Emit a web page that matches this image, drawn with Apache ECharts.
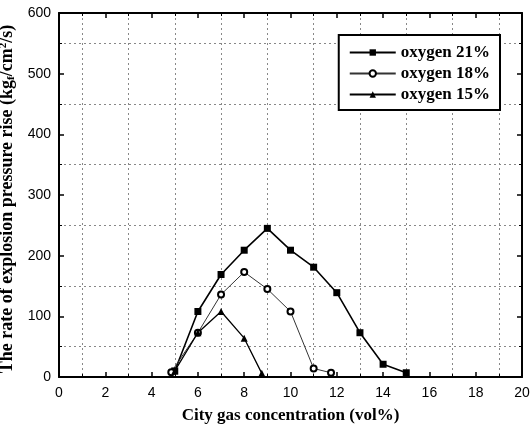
<!DOCTYPE html>
<html><head><meta charset="utf-8">
<script src="https://cdn.jsdelivr.net/npm/echarts@6/dist/echarts.min.js"></script>
<style>html,body{margin:0;padding:0;background:#fff}#c{width:532px;height:432px}</style>
</head><body><div id="c"></div>
<script>
const seriesNames = ['oxygen 21%', 'oxygen 18%', 'oxygen 15%'];
const x21 = [5, 6, 7, 8, 9, 10, 11, 12, 13, 14, 15];
const y21 = [10, 108, 169, 209, 245, 209, 181, 139, 73, 21, 7];
const x18 = [4.85, 6, 7, 8, 9, 10, 11, 11.75];
const y18 = [8, 73, 136, 173, 145, 108, 14, 7];
const x15 = [5, 6, 7, 8, 8.76];
const y15 = [10, 73, 108, 64, 6];
const xTitle = 'City gas concentration (vol%)';
const yTitle = 'The rate of explosion pressure rise (kg{s|f}/cm{p|2}/s)';

const pair = (xs, ys) => xs.map((x, i) => [x, ys[i]]);
const chart = echarts.init(document.getElementById('c'), null, {renderer: 'canvas'});
const gridLine = {show: true, lineStyle: {color: '#888', type: [2, 3], width: 1}};
const baseAxis = {
  axisLine: {show: true, onZero: false, lineStyle: {color: '#000', width: 2}},
  axisTick: {show: true, inside: true, length: 5, lineStyle: {color: '#000', width: 1.5}},
  minorTick: {show: true, splitNumber: 2, length: 3, lineStyle: {color: '#000', width: 1}},
  splitLine: {show: false},
  minorSplitLine: gridLine
};
chart.setOption({
  animation: false,
  grid: {left: 59, right: 10, top: 13, bottom: 55, containLabel: false, outerBoundsMode: 'none'},
  legend: {
    right: 32, top: 35, orient: 'vertical', itemWidth: 46, itemHeight: 8, itemGap: 4,
    borderColor: '#000', borderWidth: 2, padding: [9, 10, 7, 10],
    backgroundColor: '#fff',
    textStyle: {fontFamily: 'Liberation Serif', fontWeight: 'bold', fontSize: 17, color: '#000'},
    data: seriesNames
  },
  xAxis: [
    Object.assign({}, baseAxis, {
      type: 'value', min: 0, max: 20, interval: 2,
      axisLabel: {color: '#000', fontFamily: 'Liberation Sans', fontSize: 14, margin: 9},
      name: xTitle, nameLocation: 'middle', nameGap: 30,
      nameTextStyle: {fontFamily: 'Liberation Serif', fontWeight: 'bold', fontSize: 17, color: '#000'}
    }),
    Object.assign({}, baseAxis, {
      type: 'value', min: 0, max: 20, interval: 2, position: 'top',
      axisLabel: {show: false}, minorSplitLine: {show: false}
    })
  ],
  yAxis: [
    Object.assign({}, baseAxis, {
      type: 'value', min: 0, max: 600, interval: 100,
      axisLabel: {color: '#000', fontFamily: 'Liberation Sans', fontSize: 14, margin: 8},
      name: yTitle, nameLocation: 'middle', nameGap: 33,
      nameTextStyle: {fontFamily: 'Liberation Serif', fontWeight: 'bold', fontSize: 18, color: '#000',
        padding: [0, 8, 0, 0],
        rich: {s: {fontSize: 11, fontFamily: 'Liberation Serif', fontWeight: 'bold', verticalAlign: 'bottom', padding: [8, 0, 0, 0]},
               p: {fontSize: 11, fontFamily: 'Liberation Serif', fontWeight: 'bold', verticalAlign: 'top', padding: [0, 0, 8, 0]}}}
    }),
    Object.assign({}, baseAxis, {
      type: 'value', min: 0, max: 600, interval: 100, position: 'right',
      axisLabel: {show: false}, minorSplitLine: {show: false}
    })
  ],
  series: [
    {name: seriesNames[0], type: 'line', data: pair(x21, y21), symbol: 'rect', symbolSize: 7,
     itemStyle: {color: '#000'}, lineStyle: {color: '#000', width: 1.6}},
    {name: seriesNames[1], type: 'line', data: pair(x18, y18), symbol: 'emptyCircle', symbolSize: 6,
     itemStyle: {color: '#000', borderWidth: 1.3}, lineStyle: {color: '#333', width: 1}},
    {name: seriesNames[2], type: 'line', data: pair(x15, y15), symbol: 'triangle', symbolSize: 7,
     itemStyle: {color: '#000'}, lineStyle: {color: '#000', width: 1.3}}
  ]
});
</script></body></html>
